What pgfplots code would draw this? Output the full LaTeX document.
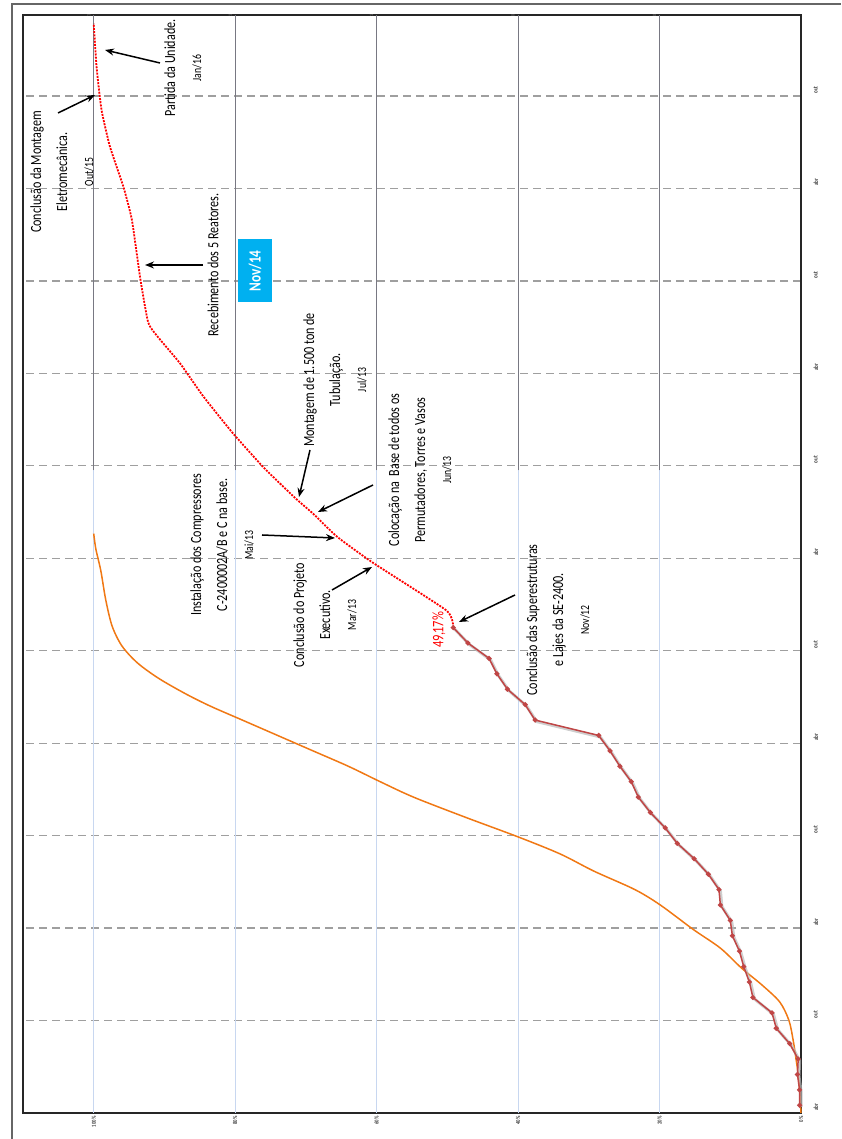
\documentclass[border=0pt]{standalone}
\usepackage{pgfplots}
\pgfplotsset{compat=1.18}
\usepackage{fontspec}
\setmainfont{Carlito}[FakeStretch=0.78]
\usetikzlibrary{arrows.meta}
\definecolor{actred}{RGB}{192,70,70}
\definecolor{planor}{RGB}{240,120,20}
\definecolor{gridblue}{RGB}{200,215,240}
\definecolor{gridgray}{RGB}{120,120,130}
\definecolor{novblue}{RGB}{0,176,240}
\begin{document}
\begin{tikzpicture}
\path[use as bounding box] (0,0) rectangle (841pt,1139pt);
\begin{axis}[
  at={(23pt,26pt)}, anchor=south west, scale only axis,
  width=778pt, height=1098pt,
  xmin=0, xmax=110, x dir=reverse, ymin=3, ymax=74.25,
  xtick={0,20,40,60,80,100},
  xticklabels={0\%,20\%,40\%,60\%,80\%,100\%},
  ytick={3,9,15,21,27,33,39,45,51,57,63,69},
  yticklabels={abr,out,abr,out,abr,out,abr,out,abr,out,abr,out},
  yticklabel pos=right,
  xticklabel style={rotate=90, anchor=east, font=\fontsize{6}{7}\selectfont\bfseries, text=black!75},
  yticklabel style={rotate=90, anchor=north, font=\fontsize{6.5}{7}\selectfont\bfseries, text=black!75, xshift=6pt, yshift=-9pt},
  major tick length=0pt,
  ymajorgrids,
  y grid style={gray!75, line width=1.3pt, dash pattern=on 8pt off 5pt},
  axis line style={line width=1.8pt, black!85},
  clip=false,
]
% vertical gridlines (percent)
\foreach \p in {20,40,60,80,100}{
  \edef\temp{\noexpand\draw[gridblue, line width=1pt] (axis cs:\p,3) -- (axis cs:\p,44.7);
  \noexpand\draw[gridgray, line width=0.8pt] (axis cs:\p,44.7) -- (axis cs:\p,74.25);}
  \temp
}
% top tiny labels
\foreach \p/\t in {100/1,80/1,60/1,40/0,20/0}{
  \edef\temp{\noexpand\node[rotate=90, font=\noexpand\fontsize{5}{6}\noexpand\selectfont, text=gray] at (axis cs:\p,74.25) [yshift=5pt] {\t};}
  \temp
}
% planned (orange)
\addplot[planor, line width=1.5pt, smooth, tension=0.5] coordinates {
(0,3.0) (0.2,4.5) (0.4,5.5) (0.7,6.5) (1.1,7.7) (1.7,9.0) (3.0,10.2) (5.5,11.3)
(8.4,12.4) (11.4,13.7) (15.2,14.9) (19.9,16.5) (23.5,17.5) (29.3,18.7) (34.0,19.8)
(39.9,20.9) (47.5,22.2) (54.8,23.5) (59.5,24.5) (64,25.5) (69,26.5) (74,27.5)
(79,28.5) (83.5,29.4) (87.0,30.2) (90.8,31.2) (93.8,32.2) (96.0,33.3) (97.4,34.6)
(98.3,36.3) (99.0,38.2) (99.7,39.6) (100,40.6)
};
% projection (red dashed)
\addplot[red, line width=1.8pt, dash pattern=on 2pt off 1.2pt, smooth, tension=0.3] coordinates {
(49.17,34.5) (50.1,35.6) (60.5,38.7) (65.6,40.4) (69.0,41.9) (71.5,42.9) (76.0,44.9)
(80.3,47.1) (84.5,49.5) (87.8,51.65) (91.0,53.4) (92.3,54.3) (93.4,57.1) (94.6,60.95)
(95.8,63.1) (97.7,65.7) (98.9,68.1) (99.6,70.9) (100.0,73.7)
};
% actual shadow
\addplot[gray!55, line width=3pt, opacity=0.7, shift={(1.5pt,-1.5pt)}] coordinates {
(0.2,3.5) (0.2,4.5) (0.5,5.5) (0.4,6.5) (1.6,7.5) (3.5,8.5) (4.1,9.5) (6.8,10.5)
(7.3,11.5) (8.1,12.5) (8.7,13.5) (9.7,14.5) (10.0,15.5) (11.4,16.5) (11.6,17.5)
(13.1,18.5) (15.1,19.5) (17.5,20.5) (19.2,21.5) (21.3,22.5) (23.0,23.5) (24.0,24.5)
(25.6,25.5) (27.0,26.5) (28.6,27.5) (37.6,28.5) (39.0,29.5) (41.5,30.5) (43.0,31.5)
(44.1,32.5) (47.1,33.5) (49.17,34.5)
};
% actual
\addplot[actred, line width=1.5pt, mark=*, mark size=1.7pt] coordinates {
(0.2,3.5) (0.2,4.5) (0.5,5.5) (0.4,6.5) (1.6,7.5) (3.5,8.5) (4.1,9.5) (6.8,10.5)
(7.3,11.5) (8.1,12.5) (8.7,13.5) (9.7,14.5) (10.0,15.5) (11.4,16.5) (11.6,17.5)
(13.1,18.5) (15.1,19.5) (17.5,20.5) (19.2,21.5) (21.3,22.5) (23.0,23.5) (24.0,24.5)
(25.6,25.5) (27.0,26.5) (28.6,27.5) (37.6,28.5) (39.0,29.5) (41.5,30.5) (43.0,31.5)
(44.1,32.5) (47.1,33.5) (49.17,34.5)
};
\end{axis}
\begin{scope}[shift={(0pt,1139pt)}, x=1pt, y=-1pt]
\draw[gray!80!black, line width=1.4pt] (12,1139) -- (12,4) -- (841,4);
\tikzset{arr/.style={-{Stealth[length=9pt,width=7pt]}, line width=1.5pt, black}}
\tikzset{ann/.style={rotate=90, align=center, font=\fontsize{15.5}{26}\selectfont}}
\newcommand{\dt}[1]{{\fontsize{12.5}{26}\selectfont #1}}
\node[ann] at (183,68) {Partida da Unidade.\\\dt{Jan/16}};
\draw[arr] (160,63) -- (105,50);
\node[ann] at (62,172) {Conclusão da Montagem\\Eletromecânica.\\\dt{Out/15}};
\draw[arr] (58,113) -- (95,95);
\node[ann] at (213,265) {Recebimento dos 5 Reatores.};
\draw[arr] (203,265) -- (145,265);
\node[rotate=90, fill=novblue, text=white, font=\fontsize{17}{20}\selectfont\bfseries,
  minimum width=63pt, minimum height=34pt, inner sep=2pt] at (255,271) {Nov/14};
\node[ann] at (335,380) {Montagem de 1.500 ton de\\Tubulação.\\\dt{Jul/13}};
\draw[arr] (310,450) -- (299,497);
\node[ann] at (420,470) {Colocação na\ \ Base de todos os\\Permutadores, Torres e Vasos\\\dt{Jun/13}};
\draw[arr] (373,485) -- (318,512);
\node[ann] at (222,545) {Instalação dos Compressores\\C-2400002A/B e C na base.\\\dt{Mai/13}};
\draw[arr] (262,535) -- (335,538);
\node[ann] at (325,615) {Conclusão do Projeto\\Executivo.\\\dt{Mar/13}};
\draw[arr] (332,590) -- (372,567);
\node[ann] at (558,620) {Conclusão das Superestruturas\\e Lajes da SE-2400.\\\dt{Nov/12}};
\draw[arr] (515,595) -- (459,622);
\node[rotate=90, text=red, font=\fontsize{16}{18}\selectfont] at (439,630) {49,\kern-1.5pt17\%};
\end{scope}
\end{tikzpicture}
\end{document}
